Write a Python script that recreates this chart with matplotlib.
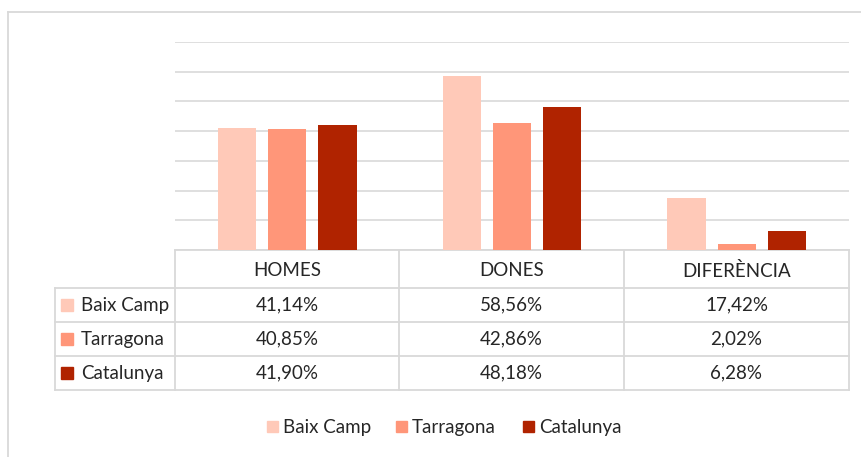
import numpy as np
import matplotlib.pyplot as plt
from matplotlib.patches import Rectangle

W, H = 862, 457

categories = ["HOMES", "DONES", "DIFERÈNCIA"]
series = ["Baix Camp", "Tarragona", "Catalunya"]
baix_camp = [41.14, 58.56, 17.42]
tarragona = [40.85, 42.86, 2.02]
catalunya = [41.90, 48.18, 6.28]
colors = ["#FFC9B8", "#FF9679", "#B02300"]

GRID = "#d9d9d9"
TXT = "#262626"

plt.rcParams["font.family"] = ["Lato", "DejaVu Sans"]
fig = plt.figure(figsize=(W / 100, H / 100), dpi=100)


def px(x0, y0, x1, y1):
    return [x0 / W, 1 - y1 / H, (x1 - x0) / W, (y1 - y0) / H]


# background layer in pixel coords (border, table, legend)
bg = fig.add_axes([0, 0, 1, 1])
bg.set_xlim(0, W); bg.set_ylim(H, 0); bg.axis("off")

bg.plot([8, W], [12, 12], color=GRID, lw=1.3)
bg.plot([8, 8], [12, H], color=GRID, lw=1.3)

# bars
ax = fig.add_axes(px(175, 42, 849, 250))
ax.patch.set_alpha(0)
x = np.arange(len(categories)) + 0.5
width, step = 0.17, 0.223
for i, (vals, c) in enumerate(zip([baix_camp, tarragona, catalunya], colors)):
    ax.bar(x + (i - 1) * step, vals, width, color=c, zorder=3)
ax.set_xlim(0, 3)
ax.set_ylim(0, 70)
ax.set_yticks(np.arange(0, 71, 10))
ax.yaxis.grid(True, color=GRID, lw=1.2, zorder=0)
ax.tick_params(left=False, bottom=False, labelleft=False, labelbottom=False)
for s in ax.spines.values():
    s.set_visible(False)

# data table
col_x = [175, 399, 624, 849]
row_y = [250, 288, 322, 356, 390]
lw = 1.3
bg.plot([175, 849], [250, 250], color=GRID, lw=lw)
for y in row_y[1:]:
    bg.plot([55, 849], [y, y], color=GRID, lw=lw)
bg.plot([55, 55], [288, 390], color=GRID, lw=lw)
for cx in col_x:
    bg.plot([cx, cx], [250, 390], color=GRID, lw=lw)

fs = 13.5
for j, cat in enumerate(categories):
    cx = (col_x[j] + col_x[j + 1]) / 2
    bg.text(cx, 271, cat, ha="center", va="center", fontsize=fs, color=TXT)
rows = [baix_camp, tarragona, catalunya]
for r, (name, vals, c) in enumerate(zip(series, rows, colors)):
    cy = (row_y[r + 1] + row_y[r + 2]) / 2
    bg.add_patch(Rectangle((61, cy - 6), 12, 12, color=c))
    bg.text(81, cy, name, ha="left", va="center", fontsize=fs, color=TXT)
    for j, v in enumerate(vals):
        cx = (col_x[j] + col_x[j + 1]) / 2
        bg.text(cx, cy, f"{v:.2f}%".replace(".", ","), ha="center", va="center",
                fontsize=fs, color=TXT)

# legend
leg_x = [267, 396, 523]
for lx, name, c in zip(leg_x, series, colors):
    bg.add_patch(Rectangle((lx, 421), 11, 11, color=c))
    bg.text(lx + 16, 427, name, ha="left", va="center", fontsize=fs, color=TXT)

fig.savefig("out.png", dpi=100)
